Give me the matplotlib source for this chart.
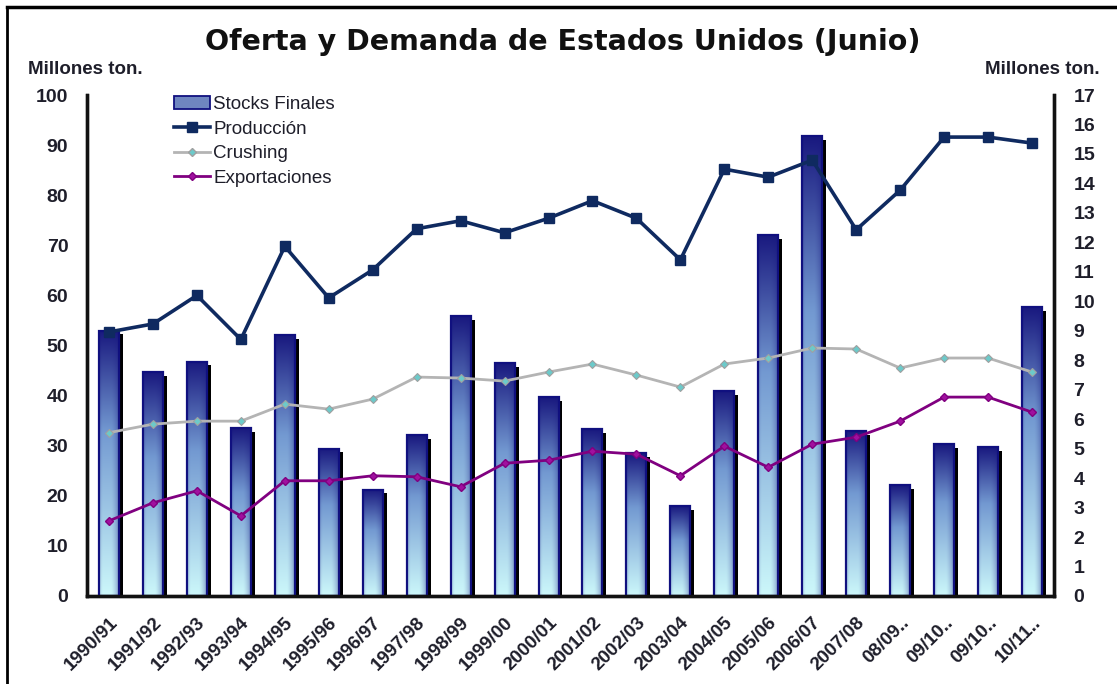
import numpy as np
import matplotlib
matplotlib.use("Agg")
import matplotlib.pyplot as plt
from matplotlib.lines import Line2D
from matplotlib.patches import Patch

# ---------------- data ----------------
campanas = ["1990/91", "1991/92", "1992/93", "1993/94", "1994/95", "1995/96",
            "1996/97", "1997/98", "1998/99", "1999/00", "2000/01", "2001/02",
            "2002/03", "2003/04", "2004/05", "2005/06", "2006/07", "2007/08",
            "08/09..", "09/10..", "09/10..", "10/11.."]
stocks_finales = [9.0, 7.6, 7.95, 5.7, 8.85, 5.0, 3.6, 5.45, 9.5, 7.9, 6.75,
                  5.65, 4.85, 3.05, 6.95, 12.25, 15.6, 5.6, 3.75, 5.15, 5.05, 9.8]
produccion = [52.7, 54.3, 60.0, 51.2, 69.8, 59.5, 65.1, 73.3, 74.9, 72.5, 75.4,
              78.9, 75.4, 67.1, 85.2, 83.6, 87.0, 73.1, 81.0, 91.6, 91.6, 90.4]
crushing = [32.6, 34.3, 34.9, 34.9, 38.3, 37.3, 39.3, 43.7, 43.5, 42.9, 44.7,
            46.3, 44.1, 41.7, 46.3, 47.5, 49.5, 49.3, 45.5, 47.5, 47.5, 44.7]
exportaciones = [15.0, 18.6, 21.0, 16.0, 23.0, 23.0, 24.0, 23.8, 21.8, 26.5, 27.1,
                 28.9, 28.3, 24.0, 29.9, 25.7, 30.3, 31.7, 34.9, 39.7, 39.7, 36.7]
left_ticks = list(range(0, 101, 10))
right_ticks = list(range(0, 18))

# ---------------- style ----------------
W, H = 1117, 684
fig = plt.figure(figsize=(W / 100, H / 100), dpi=100)
fig.patch.set_facecolor("white")

ax = fig.add_axes([87 / W, 1 - 596 / H, (1054 - 87) / W, (596 - 95) / H])
ax2 = ax.twinx()
ax.set_zorder(ax2.get_zorder() + 1)
ax.patch.set_visible(False)

x = np.arange(len(campanas))
NAVY = "#10107f"
TXT = "#1e1e2a"
tick_font = dict(family="Liberation Sans", weight="bold", size=14, color=TXT)

# ----- bars (right axis) with shadow and gradient -----
bw = 0.455
shadow = ax2.bar(x + 0.09, np.array(stocks_finales) - 0.12, width=bw,
                 color="black", zorder=1)
bars = ax2.bar(x, stocks_finales, width=bw, facecolor="none",
               edgecolor=NAVY, linewidth=1.6, zorder=3)

ny, nx = 120, 40
t = np.linspace(0, 1, ny)[:, None, None]          # 0 top -> 1 bottom
top_c = np.array([0.10, 0.10, 0.50])
mid_c = np.array([0.45, 0.60, 0.82])
bot_c = np.array([0.80, 0.97, 0.98])
split = 0.38
s = np.clip(t / split, 0, 1)
s2 = np.clip((t - split) / (1 - split), 0, 1)
vert = np.where(t < split,
                top_c * (1 - s) + mid_c * s,
                mid_c * (1 - s2) + bot_c * s2)
vert = np.broadcast_to(vert, (ny, nx, 3)).copy()
u = np.linspace(0, 1, nx)[None, :, None]
shade = 1 - 0.38 * np.clip((u - 0.6) / 0.4, 0, 1) ** 1.5 - 0.15 * np.clip((0.18 - u) / 0.18, 0, 1)
img = vert * shade + top_c * (1 - shade)
img = np.clip(img, 0, 1)
for rect in bars:
    x0, w, h = rect.get_x(), rect.get_width(), rect.get_height()
    im = ax2.imshow(img, extent=[x0, x0 + w, 0, h], aspect="auto",
                    interpolation="bilinear", zorder=2, origin="upper")
    im.set_clip_path(rect)

# ----- lines (left axis) -----
ax.plot(x, produccion, color="#0f2a60", lw=2.6, marker="s", ms=7.5,
        mfc="#0f2a60", mec="#0f2a60", zorder=5, label="Producción")
ax.plot(x, crushing, color="#b4b4b4", lw=2.0, marker="D", ms=4.5,
        mfc="#6ccaca", mec="#a0a0a0", mew=0.8, zorder=5, label="Crushing")
ax.plot(x, exportaciones, color="#800080", lw=2.0, marker="D", ms=4.5,
        mfc="#a0109f", mec="#800080", zorder=5, label="Exportaciones")

# ----- axes -----
ax.set_xlim(-0.5, len(campanas) - 0.5)
ax.set_ylim(0, 100)
ax2.set_ylim(0, 17)
ax2.set_xlim(-0.5, len(campanas) - 0.5)

for a in (ax, ax2):
    a.spines["top"].set_visible(False)
    for sp in ("left", "right", "bottom"):
        a.spines[sp].set_linewidth(2.4)
        a.spines[sp].set_color("#111111")

ax.set_yticks(left_ticks)
ax.set_yticklabels([str(v) for v in left_ticks], **tick_font)
ax2.set_yticks(right_ticks)
ax2.set_yticklabels([str(v) for v in right_ticks], **tick_font)
ax.tick_params(axis="y", length=0, pad=13.5)
ax2.tick_params(axis="y", length=0, pad=14)

ax.set_xticks(x)
ax.set_xticklabels(campanas, family="Liberation Sans", weight="bold",
                   size=13.5, color=TXT, rotation=45, ha="right",
                   rotation_mode="anchor")
ax.tick_params(axis="x", length=0, pad=13)
ax2.tick_params(axis="x", length=0)

# ----- texts -----
fig.text(563 / W, 1 - 42 / H, "Oferta y Demanda de Estados Unidos (Junio)",
         ha="center", va="center", family="DejaVu Sans", weight="bold",
         size=20.5, color="#111111")
fig.text(28 / W, 1 - 69 / H, "Millones ton.", ha="left", va="center",
         family="Liberation Sans", weight="bold", size=13.5, color=TXT)
fig.text(1100 / W, 1 - 69 / H, "Millones ton.", ha="right", va="center",
         family="Liberation Sans", weight="bold", size=13.5, color=TXT)

# ----- legend -----
handles = [Patch(facecolor="#6f86c0", edgecolor=NAVY, linewidth=1.3),
           Line2D([], [], color="#0f2a60", lw=2.6, marker="s", ms=7),
           Line2D([], [], color="#b4b4b4", lw=2.0, marker="D", ms=4.5,
                  mfc="#6ccaca", mec="#a0a0a0"),
           Line2D([], [], color="#800080", lw=2.0, marker="D", ms=4.5,
                  mfc="#a0109f", mec="#800080")]
labels = ["Stocks Finales", "Producción", "Crushing", "Exportaciones"]
leg = ax.legend(handles, labels, loc="upper left",
                bbox_to_anchor=(174 / W, 1 - 96 / H), bbox_transform=fig.transFigure,
                frameon=False, prop=dict(family="Liberation Sans", size=13.5),
                handlelength=1.9, handletextpad=0.2, labelspacing=0.4,
                borderaxespad=0, borderpad=0)
for txt in leg.get_texts():
    txt.set_color(TXT)

# ----- outer frame -----
fig.add_artist(Line2D([7 / W, 1], [1 - 7 / H, 1 - 7 / H], color="black",
                      lw=2.5, transform=fig.transFigure))
fig.add_artist(Line2D([7 / W, 7 / W], [0, 1 - 7 / H], color="black",
                      lw=2.0, transform=fig.transFigure))

fig.savefig("out.png", dpi=100, facecolor="white")
